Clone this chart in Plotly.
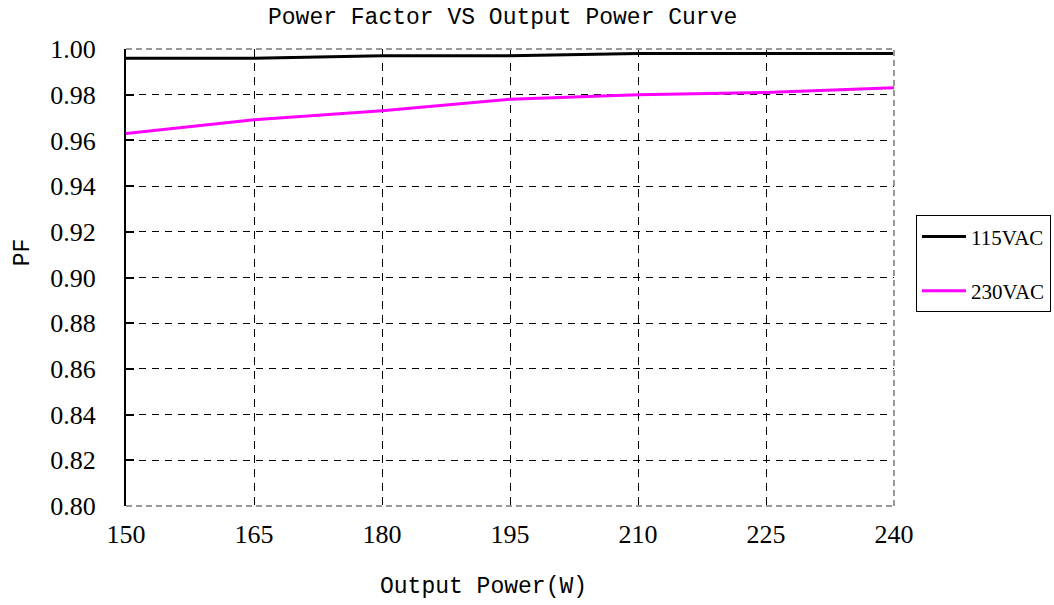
import plotly.graph_objects as go

power = [150, 165, 180, 195, 210, 225, 240]
pf_115 = [0.996, 0.996, 0.997, 0.997, 0.998, 0.998, 0.998]
pf_230 = [0.963, 0.969, 0.973, 0.978, 0.980, 0.981, 0.983]
x_ticks = [150, 165, 180, 195, 210, 225, 240]
y_ticks = [0.80, 0.82, 0.84, 0.86, 0.88, 0.90, 0.92, 0.94, 0.96, 0.98, 1.00]

serif = "Liberation Serif"
mono = "Liberation Mono"

fig = go.Figure()
fig.add_trace(go.Scatter(x=power, y=pf_115, mode="lines", name="115VAC", legendgroup="a",
                         line=dict(color="black", width=3)))
fig.add_trace(go.Scatter(x=power, y=pf_230, mode="lines", name="230VAC", legendgroup="b",
                         line=dict(color="#ff00ff", width=3)))

fig.update_layout(
    width=1054, height=605,
    margin=dict(l=126, r=160, t=49, b=99, autoexpand=False),
    paper_bgcolor="white", plot_bgcolor="white",
    legend=dict(x=1.0286, xanchor="left", y=0.53, yanchor="middle",
                bordercolor="black", borderwidth=1, bgcolor="white",
                font=dict(family=serif, size=21, color="black"),
                traceorder="grouped", tracegroupgap=24, itemwidth=44),
    showlegend=True,
)
fig.add_annotation(text="Power Factor VS Output Power Curve", xref="paper", yref="paper",
                   x=0.4896, y=1.068, xanchor="center", yanchor="middle", showarrow=False,
                   font=dict(family=mono, size=23, color="black"))
fig.add_annotation(text="Output Power(W)", xref="paper", yref="paper",
                   x=0.465, y=-0.177, xanchor="center", yanchor="middle", showarrow=False,
                   font=dict(family=mono, size=23, color="black"))
fig.add_annotation(text="PF", xref="paper", yref="paper", textangle=-90,
                   x=-0.133, y=0.555, xanchor="center", yanchor="middle", showarrow=False,
                   font=dict(family=mono, size=23, color="black"))
fig.update_xaxes(
    range=[150, 240], tickvals=x_ticks, ticktext=[str(v) for v in x_ticks],
    showgrid=True, gridcolor="black", gridwidth=1, griddash="8px,6px",
    showline=False, zeroline=False, ticks="",
    tickfont=dict(family=serif, size=26, color="black"),
    ticklabelstandoff=10,
)
fig.update_yaxes(
    range=[0.80, 1.00], tickvals=y_ticks, ticktext=["%.2f" % v for v in y_ticks],
    showgrid=True, gridcolor="black", gridwidth=1, griddash="7px,6px",
    showline=True, linecolor="black", linewidth=2, zeroline=False,
    ticks="inside", ticklen=8, tickcolor="black", tickwidth=1.5,
    tickfont=dict(family=serif, size=26, color="black"),
    ticklabelstandoff=23,
)
# gray dashed frame on top, right and bottom
for (x0, y0, x1, y1) in [(0, 1, 1, 1), (1, 0, 1, 1), (0, 0, 1, 0)]:
    fig.add_shape(type="line", xref="paper", yref="paper", x0=x0, y0=y0, x1=x1, y1=y1,
                  line=dict(color="#999999", width=2, dash="6px,4px"))

# remove the browser's default 8px body margin so the figure fills the window
fig.write_html("out.html", config={"displayModeBar": False},
               post_script="document.body.style.margin='0';document.body.style.overflow='hidden';")
